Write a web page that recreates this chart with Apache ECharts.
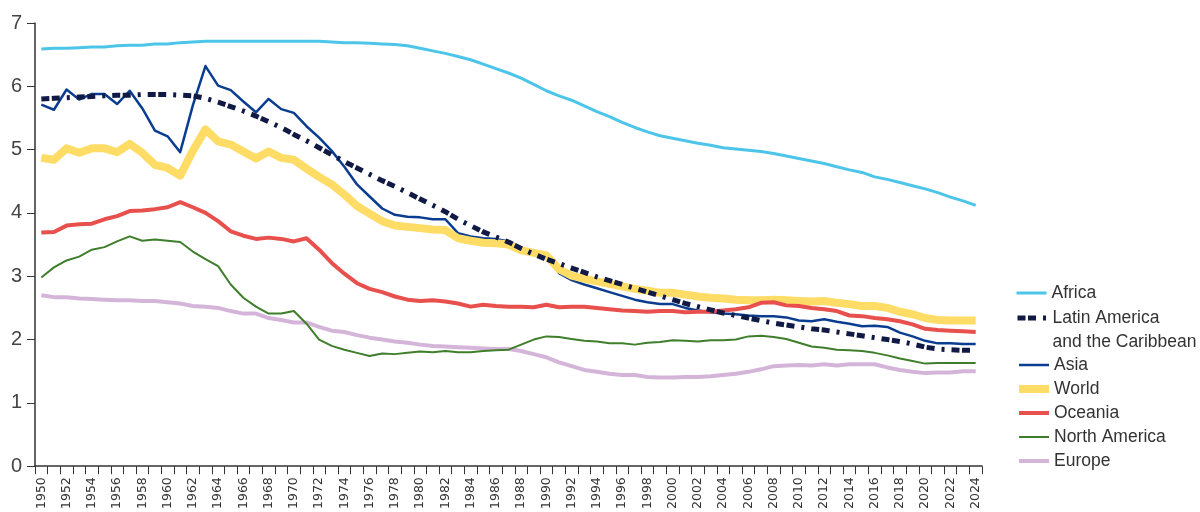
<!DOCTYPE html>
<html>
<head>
<meta charset="utf-8">
<script src="https://cdn.jsdelivr.net/npm/echarts@6/dist/echarts.min.js"></script>
<style>html,body{margin:0;padding:0;background:#fff}#c{width:1200px;height:512px}</style>
</head>
<body>
<div id="c"></div>
<script>
const years = ['1950','1951','1952','1953','1954','1955','1956','1957','1958','1959','1960','1961','1962','1963','1964','1965','1966','1967','1968','1969','1970','1971','1972','1973','1974','1975','1976','1977','1978','1979','1980','1981','1982','1983','1984','1985','1986','1987','1988','1989','1990','1991','1992','1993','1994','1995','1996','1997','1998','1999','2000','2001','2002','2003','2004','2005','2006','2007','2008','2009','2010','2011','2012','2013','2014','2015','2016','2017','2018','2019','2020','2021','2022','2023','2024'];

const africa = [6.59,6.60,6.60,6.61,6.62,6.62,6.64,6.65,6.65,6.67,6.67,6.69,6.70,6.71,6.71,6.71,6.71,6.71,6.71,6.71,6.71,6.71,6.71,6.70,6.69,6.69,6.68,6.67,6.66,6.64,6.60,6.56,6.52,6.47,6.42,6.35,6.28,6.21,6.13,6.03,5.93,5.85,5.78,5.69,5.60,5.52,5.43,5.35,5.28,5.22,5.18,5.14,5.10,5.07,5.03,5.01,4.99,4.97,4.94,4.90,4.86,4.82,4.78,4.73,4.68,4.64,4.57,4.53,4.48,4.43,4.38,4.32,4.25,4.19,4.12];

const latinAmerica = [5.80,5.81,5.82,5.83,5.84,5.85,5.86,5.86,5.87,5.87,5.87,5.86,5.85,5.81,5.75,5.68,5.61,5.53,5.44,5.35,5.24,5.14,5.03,4.92,4.81,4.71,4.61,4.51,4.42,4.32,4.22,4.12,4.02,3.90,3.80,3.70,3.62,3.54,3.44,3.35,3.27,3.20,3.13,3.06,2.99,2.93,2.87,2.81,2.75,2.69,2.63,2.57,2.52,2.47,2.42,2.38,2.34,2.30,2.26,2.23,2.20,2.17,2.15,2.12,2.09,2.06,2.03,2.00,1.97,1.93,1.88,1.85,1.84,1.83,1.83];

const asia = [5.71,5.63,5.95,5.79,5.88,5.88,5.72,5.93,5.65,5.30,5.21,4.96,5.70,6.32,6.01,5.94,5.76,5.59,5.80,5.64,5.58,5.37,5.19,4.98,4.73,4.45,4.26,4.07,3.97,3.94,3.93,3.90,3.90,3.68,3.63,3.60,3.59,3.55,3.45,3.38,3.33,3.05,2.94,2.87,2.81,2.75,2.69,2.63,2.59,2.56,2.56,2.50,2.46,2.43,2.41,2.40,2.38,2.37,2.37,2.35,2.30,2.29,2.32,2.28,2.25,2.21,2.22,2.20,2.11,2.05,1.98,1.94,1.94,1.93,1.93];

const world = [4.87,4.84,5.02,4.95,5.02,5.02,4.96,5.09,4.95,4.76,4.71,4.59,4.98,5.32,5.13,5.08,4.97,4.86,4.97,4.87,4.84,4.70,4.57,4.45,4.29,4.11,3.99,3.87,3.80,3.78,3.76,3.74,3.73,3.60,3.56,3.53,3.52,3.50,3.41,3.37,3.33,3.11,3.01,2.96,2.92,2.88,2.84,2.80,2.77,2.74,2.74,2.71,2.68,2.66,2.65,2.63,2.62,2.62,2.63,2.62,2.61,2.60,2.61,2.58,2.56,2.53,2.53,2.50,2.44,2.40,2.34,2.31,2.30,2.30,2.30];

const oceania = [3.69,3.70,3.80,3.82,3.83,3.90,3.95,4.03,4.04,4.06,4.09,4.17,4.09,4.00,3.87,3.71,3.64,3.59,3.61,3.59,3.55,3.60,3.42,3.21,3.04,2.89,2.80,2.75,2.68,2.63,2.61,2.62,2.60,2.57,2.52,2.55,2.53,2.52,2.52,2.51,2.55,2.51,2.52,2.52,2.50,2.48,2.46,2.45,2.44,2.45,2.45,2.43,2.44,2.44,2.46,2.48,2.51,2.58,2.59,2.54,2.53,2.50,2.48,2.45,2.38,2.37,2.34,2.32,2.29,2.24,2.17,2.15,2.14,2.13,2.12];

const northAmerica = [2.98,3.14,3.25,3.31,3.42,3.46,3.55,3.63,3.56,3.58,3.56,3.54,3.39,3.27,3.16,2.87,2.66,2.52,2.41,2.41,2.45,2.25,2.00,1.90,1.84,1.79,1.74,1.78,1.77,1.79,1.81,1.80,1.82,1.80,1.80,1.82,1.83,1.84,1.92,2.00,2.05,2.04,2.01,1.98,1.97,1.94,1.94,1.92,1.95,1.96,1.99,1.98,1.97,1.99,1.99,2.00,2.05,2.06,2.04,2.01,1.95,1.89,1.87,1.84,1.83,1.82,1.79,1.75,1.70,1.66,1.62,1.63,1.63,1.63,1.63];

const europe = [2.70,2.67,2.67,2.65,2.64,2.63,2.62,2.62,2.61,2.61,2.59,2.57,2.53,2.52,2.50,2.45,2.41,2.41,2.34,2.31,2.27,2.27,2.20,2.14,2.12,2.07,2.03,2.00,1.97,1.95,1.92,1.90,1.89,1.88,1.87,1.86,1.85,1.85,1.82,1.77,1.72,1.64,1.58,1.52,1.49,1.46,1.44,1.44,1.41,1.40,1.40,1.41,1.41,1.42,1.44,1.46,1.49,1.53,1.58,1.59,1.60,1.59,1.61,1.59,1.61,1.61,1.61,1.56,1.52,1.49,1.47,1.48,1.48,1.50,1.50];

const yTicks = [0,1,2,3,4,5,6,7];

const names = {
  africa: 'Africa',
  latam: 'Latin America\nand the Caribbean',
  asia: 'Asia',
  world: 'World',
  oceania: 'Oceania',
  na: 'North America',
  europe: 'Europe'
};

const legendText = { fontFamily: 'Liberation Sans, Arial, sans-serif', fontSize: 17.5, color: '#333', lineHeight: 24 };
const legendBase = {
  orient: 'vertical', left: 1018, itemWidth: 30, itemHeight: 14, itemGap: 0, padding: 0,
  selectedMode: false,
  lineStyle: { width: 'inherit' },
  itemStyle: { opacity: 0 },
  textStyle: legendText
};

function line(name, data, color, width, z, dash) {
  return {
    name: name, type: 'line', data: data, symbol: 'none', showSymbol: false, z: z,
    lineStyle: { color: color, width: width, type: dash || 'solid', cap: 'butt', join: 'round' },
    itemStyle: { color: color },
    emphasis: { disabled: true }
  };
}

const chart = echarts.init(document.getElementById('c'), null, { renderer: 'canvas' });
chart.setOption({
  animation: false,
  backgroundColor: '#fff',
  grid: { left: 35, right: 218, top: 23, bottom: 45, containLabel: false },
  legend: [
    Object.assign({}, legendBase, { left: 1015, top: 281, data: [names.africa] }),
    Object.assign({}, legendBase, { left: 1015, top: 282, data: [names.latam], formatter: function (n) { return '\n' + n; } }),
    Object.assign({}, legendBase, { left: 1015, top: 353, data: [names.asia, names.world, names.oceania, names.na, names.europe] })
  ],
  xAxis: {
    type: 'category', data: years, boundaryGap: true,
    axisLine: { lineStyle: { color: '#333', width: 1.5 } },
    axisTick: { show: true, interval: 0, length: 8, alignWithLabel: false, lineStyle: { color: '#333', width: 1 } },
    axisLabel: { interval: 1, rotate: 90, margin: 11, fontFamily: 'DejaVu Sans, sans-serif', fontSize: 12.5, color: '#333' },
    splitLine: { show: false }
  },
  yAxis: {
    type: 'value', min: yTicks[0], max: yTicks[yTicks.length - 1], interval: 1,
    axisLine: { show: true, lineStyle: { color: '#333', width: 1.5 } },
    axisTick: { show: true, length: 8, lineStyle: { color: '#333', width: 1 } },
    axisLabel: { margin: 13, fontFamily: 'Liberation Sans, Arial, sans-serif', fontSize: 20, color: '#444' },
    splitLine: { show: false }
  },
  series: [
    line(names.africa, africa, '#4CC5E9', 3, 2),
    line(names.asia, asia, '#0A3D8F', 2.5, 3),
    line(names.world, world, '#FFDC66', 8, 4),
    line(names.oceania, oceania, '#E8504D', 4, 5),
    line(names.na, northAmerica, '#3F7E2B', 2, 6),
    line(names.europe, europe, '#D4B5D9', 4, 5),
    line(names.latam, latinAmerica, '#111A44', 5, 7, [8, 2.5, 8, 7, 3, 7])
  ]
});
</script>
</body>
</html>
